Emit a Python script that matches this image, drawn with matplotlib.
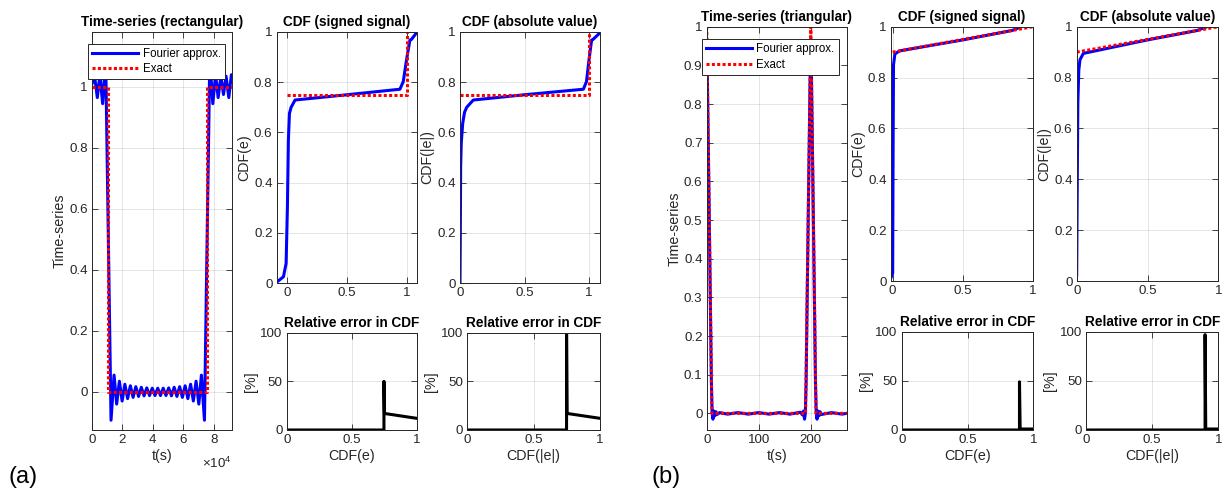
import numpy as np
import matplotlib
matplotlib.use('Agg')
import matplotlib.pyplot as plt
from matplotlib.ticker import FuncFormatter

plt.rcParams['font.family'] = ['Liberation Sans', 'DejaVu Sans']
plt.rcParams['mathtext.fontset'] = 'custom'
plt.rcParams['mathtext.rm'] = 'Liberation Sans'

# ---------------- data ----------------
# (a) rectangular signal, time in units of 1e4 s
rect_t = [0.0, 0.17, 0.35, 0.52, 0.70, 0.90, 1.075, 1.25, 1.45, 1.62, 1.80, 1.98,
          2.16, 2.34, 2.52, 2.70, 2.88, 3.06, 3.24, 3.42, 3.60, 3.78, 3.96, 4.14,
          4.32, 4.50, 4.68, 4.86, 5.04, 5.22, 5.40, 5.58, 5.76, 5.94, 6.12, 6.30,
          6.48, 6.66, 6.84, 7.02, 7.19, 7.39, 7.565, 7.74, 7.94, 8.12, 8.29, 8.47,
          8.64, 8.81, 8.99, 9.16, 9.2]
rect_fourier = [1.01, 1.035, 0.965, 1.04, 0.945, 1.093, 0.5, -0.093, 0.055, -0.04, 0.035, -0.03,
                0.025, -0.022, 0.02, -0.018, 0.017, -0.015, 0.015, -0.013, 0.013, -0.012, 0.012, -0.012,
                0.012, -0.012, 0.012, -0.012, 0.013, -0.013, 0.015, -0.015, 0.017, -0.018, 0.02, -0.022,
                0.025, -0.03, 0.035, -0.04, 0.055, -0.093, 0.5, 1.093, 0.945, 1.04, 0.965, 1.035,
                0.975, 1.035, 0.965, 1.04, 1.03]
rect_exact_t = [0.0, 1.075, 1.075, 7.565, 7.565, 9.2]
rect_exact = [1, 1, 0, 0, 1, 1]

cdf_a_e = [-0.088, -0.033, -0.025, -0.011, 0.0, 0.008, 0.017, 0.031, 0.064, 0.5, 0.944, 0.972, 1.0, 1.028, 1.04, 1.084]
cdf_a_F = [0.004, 0.025, 0.045, 0.078, 0.304, 0.57, 0.676, 0.70, 0.729, 0.75, 0.772, 0.802, 0.89, 0.968, 0.97, 0.997]
cdf_a_abs_e = [0.0, 0.003, 0.005, 0.01, 0.021, 0.035, 0.052, 0.103, 0.5, 0.956, 0.98, 1.0, 1.02, 1.03, 1.085]
cdf_a_abs_F = [0.0, 0.25, 0.463, 0.56, 0.636, 0.68, 0.70, 0.729, 0.75, 0.772, 0.802, 0.89, 0.968, 0.97, 0.997]
cdf_a_exact_e = [0.0, 1.0, 1.0]
cdf_a_exact_F = [0.75, 0.75, 1.0]

relerr_a_x = [0.0, 0.748, 0.748, 0.752, 1.0]
relerr_a = [0, 0, 50, 17, 12]
relerr_a_abs = [0, 0, 100, 17, 12]

# (b) triangular signal, time in s
tri_t = [0, 1, 5, 9, 10.5, 12, 14, 16, 18, 20, 25, 40, 60, 80, 100, 120, 140, 160,
         180, 184, 186, 188, 189.5, 191, 195, 199, 200, 201, 205, 209, 210.5, 212,
         214, 216, 218, 220, 240, 260, 269]
tri_fourier = [0.96, 0.9, 0.5, 0.08, 0.0, -0.015, 0.006, -0.006, 0.004, -0.003, 0.002, -0.002,
               0.002, -0.002, 0.002, -0.002, 0.002, -0.002, 0.003, -0.004, 0.006, -0.015,
               0.0, 0.08, 0.5, 0.9, 0.96, 0.9, 0.5, 0.08, 0.0, -0.015, 0.006, -0.006,
               0.004, -0.003, 0.002, -0.002, 0.0]
tri_exact_t = [0, 10, 190, 200, 210, 269]
tri_exact = [1, 0, 0, 1, 0, 0]

cdf_b_e = [-0.014, 0.0, 0.003, 0.006, 0.016, 0.05, 0.5, 0.85, 0.91]
cdf_b_F = [0.01, 0.03, 0.5, 0.85, 0.893, 0.905, 0.948, 0.985, 0.998]
cdf_b_abs_e = [0.0, 0.003, 0.008, 0.015, 0.023, 0.047, 0.5, 0.85, 0.912]
cdf_b_abs_F = [0.024, 0.3, 0.7, 0.83, 0.87, 0.895, 0.948, 0.985, 0.998]
cdf_b_exact_e = [0.0, 1.0]
cdf_b_exact_F = [0.9, 1.0]

relerr_b_x = [0.0, 0.895, 0.895, 0.90, 1.0]
relerr_b = [0, 0, 49, 1, 1]
relerr_b_abs_x = [0.0, 0.90, 0.90, 0.905, 1.0]
relerr_b_abs = [0, 0, 97, 1, 1]

# ---------------- figure ----------------
W, H = 1230, 491
fig = plt.figure(figsize=(W / 100, H / 100), dpi=100)
dark = '#262626'
fmt = FuncFormatter(lambda v, p: '%g' % v)
lw = 2.2
dots = (0, (1, 0.75))


def px_axes(l, t, r, b):
    return fig.add_axes([l / W, 1 - b / H, (r - l) / W, (b - t) / H])


def style(ax, title, xlabel=None, ylabel=None):
    ax.tick_params(direction='in', top=True, right=True, length=4, width=0.6,
                   labelsize=9.6, colors=dark, pad=3)
    ax.grid(True, color='black', alpha=0.12, lw=0.6)
    for sp in ax.spines.values():
        sp.set_color(dark)
        sp.set_linewidth(0.7)
    ax.set_title(title, fontsize=9.8, fontweight='bold', pad=4)
    if xlabel:
        ax.set_xlabel(xlabel, fontsize=10.3, color=dark, labelpad=2)
    if ylabel:
        ax.set_ylabel(ylabel, fontsize=10.3, color=dark, labelpad=2)
    ax.yaxis.set_major_formatter(fmt)
    ax.xaxis.set_major_formatter(fmt)


def add_legend(ax, anchor):
    leg = ax.legend(loc='upper left', bbox_to_anchor=anchor, fontsize=8.3, handlelength=4,
                    fancybox=False, framealpha=1, edgecolor=dark, borderpad=0.35,
                    labelspacing=0.3, handletextpad=0.4, borderaxespad=0)
    leg.get_frame().set_linewidth(0.7)


# (a) time series
ax = px_axes(92, 32, 232, 430)
ax.plot(np.array(rect_t) * 1e4, rect_fourier, color='#0000FF', lw=lw, label='Fourier approx.')
ax.plot(np.array(rect_exact_t) * 1e4, rect_exact, color='#FF0000', lw=lw, ls=dots, label='Exact')
ax.set_xlim(0, 9.2e4)
ax.set_ylim(-0.125, 1.18)
ax.set_xticks([0, 2e4, 4e4, 6e4, 8e4])
ax.set_yticks([0, 0.2, 0.4, 0.6, 0.8, 1.0])
style(ax, 'Time-series (rectangular)', 't(s)', 'Time-series')
ax.xaxis.set_major_formatter(FuncFormatter(lambda v, p: '%g' % (v / 1e4)))
add_legend(ax, (-0.03, 0.97))
fig.text(202 / W, 1 - 463 / H, r'$\times$10$^4$', fontsize=9.6, color=dark, va='center')

# (a) CDFs
ax = px_axes(276.7, 32, 416.7, 283)
ax.plot(cdf_a_e, cdf_a_F, color='#0000FF', lw=lw)
ax.plot(cdf_a_exact_e, cdf_a_exact_F, color='#FF0000', lw=lw, ls=dots)
ax.set_xlim(-0.09, 1.085)
ax.set_ylim(0, 1)
ax.set_xticks([0, 0.5, 1])
ax.set_yticks([0, 0.2, 0.4, 0.6, 0.8, 1])
style(ax, 'CDF (signed signal)', None, 'CDF(e)')

ax = px_axes(460, 32, 600, 283)
ax.plot(cdf_a_abs_e, cdf_a_abs_F, color='#0000FF', lw=lw)
ax.plot(cdf_a_exact_e, cdf_a_exact_F, color='#FF0000', lw=lw, ls=dots)
ax.set_xlim(0, 1.085)
ax.set_ylim(0, 1)
ax.set_xticks([0, 0.5, 1])
ax.set_yticks([0, 0.2, 0.4, 0.6, 0.8, 1])
style(ax, 'CDF (absolute value)', None, 'CDF(|e|)')

# (a) relative errors
ax = px_axes(286.7, 332.7, 416.7, 430)
ax.plot(relerr_a_x, relerr_a, color='black', lw=lw)
ax.set_xlim(0, 1)
ax.set_ylim(0, 100)
ax.set_xticks([0, 0.5, 1])
ax.set_yticks([0, 50, 100])
style(ax, 'Relative error in CDF', 'CDF(e)', '[%]')

ax = px_axes(467.3, 332.7, 600, 430)
ax.plot(relerr_a_x, relerr_a_abs, color='black', lw=lw)
ax.set_xlim(0, 1)
ax.set_ylim(0, 100)
ax.set_xticks([0, 0.5, 1])
ax.set_yticks([0, 50, 100])
style(ax, 'Relative error in CDF', 'CDF(|e|)', '[%]')

# (b) time series
ax = px_axes(706.7, 26.7, 846.7, 430)
ax.plot(tri_t, tri_fourier, color='#0000FF', lw=lw, label='Fourier approx.')
ax.plot(tri_exact_t, tri_exact, color='#FF0000', lw=lw, ls=dots, label='Exact')
ax.set_xlim(0, 269)
ax.set_ylim(-0.043, 1.0)
ax.set_xticks([0, 100, 200])
ax.set_yticks(np.round(np.arange(0, 1.01, 0.1), 1))
style(ax, 'Time-series (triangular)', 't(s)', 'Time-series')
add_legend(ax, (-0.036, 0.969))

# (b) CDFs
ax = px_axes(890.7, 26.7, 1033, 281)
ax.plot(cdf_b_e, cdf_b_F, color='#0000FF', lw=lw)
ax.plot(cdf_b_exact_e, cdf_b_exact_F, color='#FF0000', lw=lw, ls=dots)
ax.set_xlim(-0.014, 1)
ax.set_ylim(0, 1)
ax.set_xticks([0, 0.5, 1])
ax.set_yticks([0, 0.2, 0.4, 0.6, 0.8, 1])
style(ax, 'CDF (signed signal)', None, 'CDF(e)')

ax = px_axes(1076.7, 26.7, 1218.3, 281)
ax.plot(cdf_b_abs_e, cdf_b_abs_F, color='#0000FF', lw=lw)
ax.plot(cdf_b_exact_e, cdf_b_exact_F, color='#FF0000', lw=lw, ls=dots)
ax.set_xlim(0, 1)
ax.set_ylim(0, 1)
ax.set_xticks([0, 0.5, 1])
ax.set_yticks([0, 0.2, 0.4, 0.6, 0.8, 1])
style(ax, 'CDF (absolute value)', None, 'CDF(|e|)')

# (b) relative errors
ax = px_axes(901.7, 331.7, 1033.3, 430)
ax.plot(relerr_b_x, relerr_b, color='black', lw=lw)
ax.set_xlim(0, 1)
ax.set_ylim(0, 100)
ax.set_xticks([0, 0.5, 1])
ax.set_yticks([0, 50, 100])
style(ax, 'Relative error in CDF', 'CDF(e)', '[%]')

ax = px_axes(1086, 331.7, 1218.3, 430)
ax.plot(relerr_b_abs_x, relerr_b_abs, color='black', lw=lw)
ax.set_xlim(0, 1)
ax.set_ylim(0, 100)
ax.set_xticks([0, 0.5, 1])
ax.set_yticks([0, 50, 100])
style(ax, 'Relative error in CDF', 'CDF(|e|)', '[%]')

fig.text(8 / W, 1 - 477 / H, '(a)', fontsize=17, va='center')
fig.text(652 / W, 1 - 477 / H, '(b)', fontsize=17, va='center')

fig.savefig('out.png', dpi=100, facecolor='white')
